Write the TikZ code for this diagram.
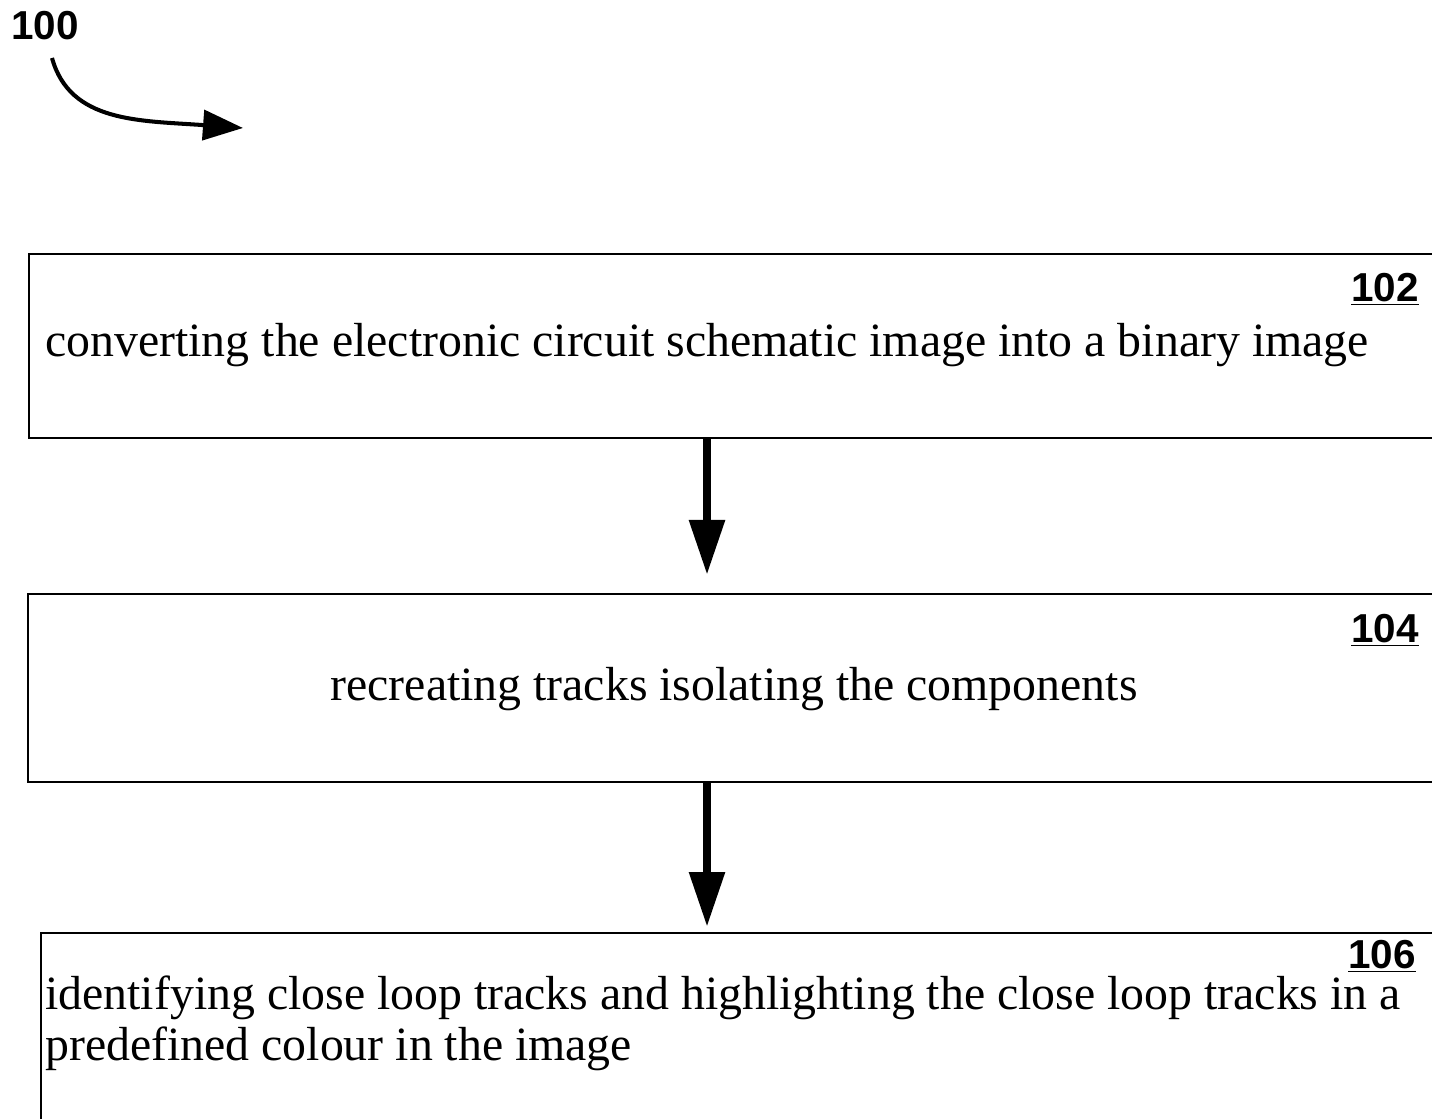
\documentclass[tikz,border=0pt]{standalone}
\usepackage{fontspec}
\setmainfont{Liberation Serif}
\newfontfamily\labelfont{Liberation Sans}
\usetikzlibrary{arrows.meta,positioning}

\begin{document}
\begin{tikzpicture}[
  stepbox/.style={draw, line width=1.1pt, rectangle, anchor=north west, minimum width=28.6cm, inner sep=0pt},
  steptext/.style={inner sep=0pt, font=\fontsize{27.2}{28.5}\selectfont},
  refnum/.style={inner sep=0pt, font=\labelfont\bfseries\fontsize{23}{26}\selectfont},
  flowarrow/.style={line width=5pt, -{Triangle[length=1.1cm, width=0.68cm]}}
]
\useasboundingbox (0,0) rectangle (28.64,22.36);
\clip (0,0) rectangle (28.64,22.36);

% reference numeral and its arrow
\node[refnum, anchor=base west] (n100) at (0.22,21.56) {100};
\coordinate (c100) at (1.04,21.2);
\coordinate (t100) at (4.86,19.8);
\draw[line width=2.3pt, -{Triangle[length=0.8cm, width=0.6cm]}] (c100) .. controls (1.4,19.9) and (2.8,19.95) .. (t100);

% steps
\node[stepbox, minimum height=3.68cm] (box102) at (0.56,17.30) {};
\node[stepbox, minimum height=3.76cm] (box104) at (0.54,10.50) {};
\node[stepbox, minimum height=4.5cm] (box106) at (0.80,3.72) {};

\node[refnum, anchor=base east] (n102) at (28.38,16.32) {\underline{102}};
\node[refnum, anchor=base east] (n104) at (28.38,9.52) {\underline{104}};
\node[refnum, anchor=base east] (n106) at (28.32,3.00) {\underline{106}};

\node[steptext, anchor=base west] (t102) at (0.9,15.22) {converting the electronic circuit schematic image into a binary image};
\node[steptext, anchor=base] (t104) at (14.68,8.36) {recreating tracks isolating the components};
\node[steptext, anchor=base west, align=left] (t106) at (0.9,1.16) {identifying close loop tracks and highlighting the close loop tracks in a\\predefined colour in the image};

% connectors
\coordinate (ax) at (14.14,0);
\draw[flowarrow, shorten >=0.36cm] (box102.south -| ax) -- (box104.north -| ax);
\draw[flowarrow, shorten >=0.1cm] (box104.south -| ax) -- (box106.north -| ax);

\end{tikzpicture}
\end{document}
